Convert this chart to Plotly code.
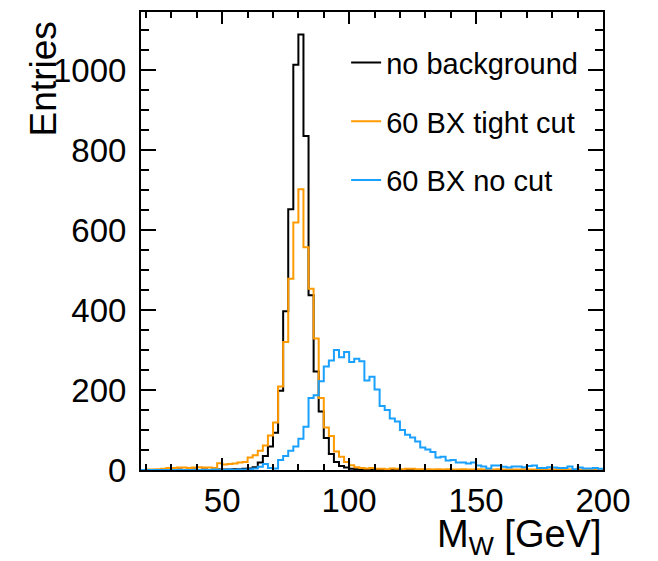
import numpy as np
import plotly.graph_objects as go

# W mass histograms, 2 GeV bins from 18 to 200 GeV
bin_low = 18.0
bin_width = 2.0

no_background = [
    0, 0, 0, 0, 0, 0, 0, 1, 0, 0,
    1, 0, 1, 0, 1, 1, 1, 1, 2, 2,
    3, 4, 7, 19, 35, 59, 93, 198, 397, 652,
    1013, 1089, 835, 437, 246, 146, 80, 40, 20, 10,
    6, 3, 2, 1, 1, 1, 0, 1, 0, 0,
    0, 0, 0, 0, 0, 0, 0, 0, 0, 0,
    0, 0, 0, 0, 0, 0, 0, 0, 0, 0,
    0, 0, 0, 0, 0, 0, 0, 0, 0, 0,
    0, 0, 0, 0, 0, 0, 0, 0, 0, 0,
    0,
]

tight_cut = [
    0, 1, 1, 2, 3, 5, 5, 6, 6, 5,
    6, 7, 6, 6, 5, 17, 14, 15, 16, 19,
    20, 31, 37, 48, 61, 86, 119, 209, 320, 478,
    619, 702, 557, 453, 329, 180, 106, 85, 46, 33,
    20, 12, 7, 5, 4, 5, 3, 3, 2, 4,
    3, 2, 3, 3, 2, 2, 2, 1, 2, 1,
    2, 1, 1, 2, 1, 1, 2, 1, 1, 1,
    2, 1, 1, 1, 1, 2, 1, 1, 1, 1,
    1, 2, 1, 1, 1, 1, 1, 1, 1, 1,
    1,
]

no_cut = [
    0, 0, 0, 0, 0, 0, 0, 0, 0, 0,
    0, 0, 0, 0, 1, 0, 0, 1, 0, 1,
    1, 2, 4, 8, 15, 5, 4, 25, 35, 48,
    59, 78, 108, 180, 187, 222, 259, 274, 300, 282,
    295, 270, 278, 272, 224, 233, 201, 160, 150, 129,
    121, 100, 88, 81, 71, 56, 51, 45, 31, 33,
    24, 25, 19, 19, 16, 19, 11, 9, 4, 11,
    11, 8, 6, 9, 9, 7, 10, 11, 5, 5,
    7, 6, 5, 5, 9, 2, 6, 4, 4, 5,
    3,
]

series = [
    ("no background", no_background, "#000000"),
    ("60 BX tight cut", tight_cut, "#FF9A00"),
    ("60 BX no cut", no_cut, "#1AA0FF"),
]

font_family = "Liberation Sans, Arial, Helvetica, sans-serif"

fig = go.Figure()
for i, (name, counts, color) in enumerate(series):
    counts = np.asarray(counts, dtype=float)
    edges = bin_low + bin_width * np.arange(len(counts) + 1)
    # step outline: each bin value held from its low edge to its high edge
    y_steps = np.append(counts, counts[-1])
    fig.add_trace(go.Scatter(
        x=edges, y=y_steps, mode="lines", name=name,
        line=dict(color=color, width=2, shape="hv"),
        legendgroup=f"g{i}",
    ))

axis_common = dict(
    showline=True, linecolor="black", linewidth=2, mirror="allticks",
    ticks="inside", tickcolor="black", tickwidth=1.5,
    showgrid=False, zeroline=False,
    tickfont=dict(family=font_family, size=33, color="black"),
)

fig.update_xaxes(
    range=[18, 200], tickvals=[50, 100, 150, 200], ticklen=12,
    minor=dict(dtick=10, tick0=0, ticks="inside", ticklen=6, tickcolor="black", tickwidth=1.5),
    ticklabelstandoff=0,
    **axis_common,
)
fig.update_yaxes(
    range=[0, 1145], tick0=0, dtick=200, ticklen=15,
    minor=dict(dtick=50, tick0=0, ticks="inside", ticklen=8, tickcolor="black", tickwidth=1.5),
    ticklabelstandoff=6,
    **axis_common,
)

fig.add_annotation(
    text="M<sub>W</sub> [GeV]", xref="paper", yref="paper",
    x=1.0, y=-0.089, xanchor="right", yanchor="top", showarrow=False,
    font=dict(family=font_family, size=38, color="black"),
)
fig.add_annotation(
    text="Entries", xref="paper", yref="paper",
    x=-0.212, y=0.853, xanchor="center", yanchor="middle", showarrow=False,
    textangle=-90, font=dict(family=font_family, size=37, color="black"),
)

fig.update_layout(
    width=658, height=561,
    margin=dict(l=141, r=55, t=10, b=91),
    paper_bgcolor="white", plot_bgcolor="white",
    showlegend=True,
    legend=dict(
        x=0.444, y=0.945, xanchor="left", yanchor="top",
        font=dict(family=font_family, size=29, color="black"),
        bgcolor="rgba(0,0,0,0)", traceorder="grouped", tracegroupgap=18,
        itemwidth=30,
    ),
)

fig.write_html("out.html")
